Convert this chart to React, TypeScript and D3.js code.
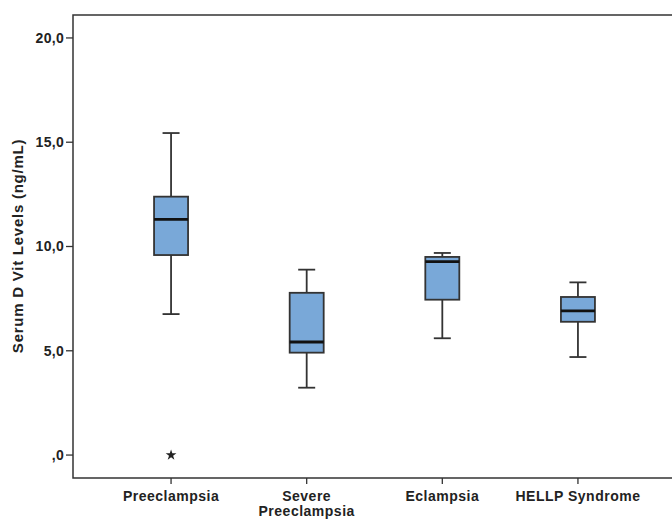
import React from "react";
import * as d3 from "d3";

// group names as printed under the x axis (second line after "|")
const groups = ["Preeclampsia", "Severe|Preeclampsia", "Eclampsia", "HELLP Syndrome"];
const whiskerLow = [6.76, 3.23, 5.6, 4.7];
const q1 = [9.59, 4.91, 7.45, 6.39];
const median = [11.3, 5.42, 9.27, 6.91];
const q3 = [12.39, 7.78, 9.5, 7.58];
const whiskerHigh = [15.44, 8.89, 9.69, 8.28];
// extreme outliers drawn as stars: [group index, value]
const extremes: [number, number][] = [[0, 0]];
const yTicks = [0, 5, 10, 15, 20];

const fmt = (v: number) => (v === 0 ? ",0" : v.toFixed(1).replace(".", ","));

const App = () => {
  const width = 672;
  const height = 519;
  const left = 73;
  const top = 15;
  const bottom = 478;
  const right = 676;
  const stroke = "#333";
  const fill = "#79a8d8";
  const font = "'Liberation Sans', Arial, sans-serif";

  const y = d3.scaleLinear().domain([-1.1, 21.1]).range([bottom, top]);
  const x = d3
    .scaleBand()
    .domain(groups)
    .range([left, right])
    .paddingInner(0)
    .paddingOuter(0.223);
  const boxW = 34;
  const capW = 17;

  const star = d3.symbol().type(d3.symbolStar).size(36)();

  return (
    <svg
      width={width}
      height={height}
      style={{ position: "absolute", left: 0, top: 0 }}
      fontFamily={font}
    >
      <rect width={width} height={height} fill="#fff" />
      {/* frame */}
      <path
        d={`M${right},${top}H${left}V${bottom}H${right}`}
        fill="none"
        stroke={stroke}
        strokeWidth={1.5}
      />
      {/* y axis */}
      {yTicks.map((t) => (
        <g key={t} transform={`translate(0,${y(t)})`}>
          <line x1={left - 7} x2={left} stroke={stroke} strokeWidth={1.3} />
          <text
            x={left - 9}
            dy="0.35em"
            textAnchor="end"
            fontSize={14}
            fontWeight="bold"
            letterSpacing={0.3}
            fill="#222"
          >
            {fmt(t)}
          </text>
        </g>
      ))}
      <text
        transform={`translate(23,246) rotate(-90)`}
        textAnchor="middle"
        fontSize={15}
        fontWeight="bold"
        letterSpacing={0.75}
        fill="#222"
      >
        Serum D Vit Levels (ng/mL)
      </text>
      {/* x axis */}
      {groups.map((g) => {
        const cx = x(g)! + x.bandwidth() / 2;
        const lines = g.split("|");
        return (
          <g key={g}>
            <line x1={cx} x2={cx} y1={bottom} y2={bottom + 6} stroke={stroke} strokeWidth={1.3} />
            <text
              x={cx}
              y={bottom + 23}
              textAnchor="middle"
              fontSize={14}
              fontWeight="bold"
              letterSpacing={0.5}
              fill="#222"
            >
              {lines.map((l, i) => (
                <tspan key={i} x={cx} dy={i === 0 ? 0 : 15}>
                  {l}
                </tspan>
              ))}
            </text>
          </g>
        );
      })}
      {/* boxes */}
      {groups.map((g, i) => {
        const cx = x(g)! + x.bandwidth() / 2;
        return (
          <g key={g} stroke={stroke} strokeWidth={1.8}>
            <line x1={cx} x2={cx} y1={y(whiskerHigh[i])} y2={y(q3[i])} />
            <line x1={cx} x2={cx} y1={y(q1[i])} y2={y(whiskerLow[i])} />
            <line x1={cx - capW / 2} x2={cx + capW / 2} y1={y(whiskerHigh[i])} y2={y(whiskerHigh[i])} />
            <line x1={cx - capW / 2} x2={cx + capW / 2} y1={y(whiskerLow[i])} y2={y(whiskerLow[i])} />
            <rect
              x={cx - boxW / 2}
              y={y(q3[i])}
              width={boxW}
              height={y(q1[i]) - y(q3[i])}
              fill={fill}
            />
            <line
              x1={cx - boxW / 2}
              x2={cx + boxW / 2}
              y1={y(median[i])}
              y2={y(median[i])}
              stroke="#111"
              strokeWidth={2.8}
            />
          </g>
        );
      })}
      {extremes.map(([gi, v], k) => (
        <path
          key={k}
          d={star!}
          transform={`translate(${x(groups[gi])! + x.bandwidth() / 2},${y(v)})`}
          fill="#222"
        />
      ))}
    </svg>
  );
};

export default App;
